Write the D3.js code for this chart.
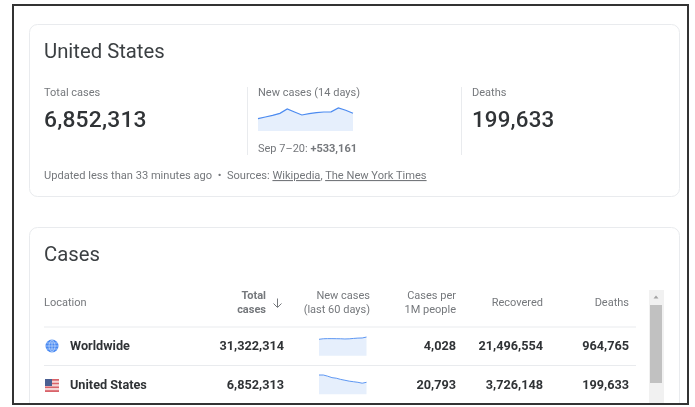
<!DOCTYPE html>
<html><head><meta charset="utf-8">
<script src="https://cdnjs.cloudflare.com/ajax/libs/d3/7.8.5/d3.min.js"></script>
<style>
html,body{margin:0;padding:0;background:#fff;overflow:hidden}
svg{display:block;filter:blur(.45px)}
text{font-family:Roboto,Arial,sans-serif}
</style></head><body><svg id="c" width="695" height="407"></svg>
<script>
const days14=[25900,29400,32900,37100,46200,39900,33600,36300,38400,39900,40300,48300,43500,37200];
const worldwideTrend=[250,258,260,260,259,258,255,257,263,268,270,284];
const usTrend=[66,66,62,57,55,51,48,45,43,41,38,41];
const columns=["Total cases","New cases (last 60 days)","Cases per 1M people","Recovered","Deaths"];
const locations=["Worldwide","United States"];
const totalCases=["31,322,314","6,852,313"];
const casesPerM=["4,028","20,793"];
const recovered=["21,496,554","3,726,148"];
const deaths=["964,765","199,633"];

const svg=d3.select("#c");
const GRAY="#75787c",DARK="#303336",BLUE="#4c8bf0",FILL="#e6effc",LINE="#e9ebee";
const SM=11;
function t(x,y,s,size,o={}){
  return svg.append("text").attr("x",x).attr("y",y).text(s).attr("font-size",size)
   .attr("fill",o.fill||GRAY).attr("font-weight",o.w||400)
   .attr("text-anchor",o.a||"start").attr("letter-spacing",o.ls||0);
}
// frame
svg.append("rect").attr("x",13).attr("y",5).attr("width",675).attr("height",399)
  .attr("fill","#fff").attr("stroke","#333").attr("stroke-width",2);
// cards
svg.append("rect").attr("x",29.5).attr("y",24.5).attr("width",650).attr("height",172).attr("rx",8)
  .attr("fill","#fff").attr("stroke",LINE);
svg.append("path").attr("d","M29.5 403V235.5a8 8 0 0 1 8-8H671.5a8 8 0 0 1 8 8V403")
  .attr("fill","#fff").attr("stroke",LINE);

// header card
t(44,58,"United States",20.3,{fill:"#3c4043"});
t(44,96,"Total cases",SM);
t(44,127,"6,852,313",22.8,{fill:DARK,w:500,ls:.2});
t(258,96,"New cases (14 days)",SM);
t(472,96,"Deaths",SM);
t(472,127,"199,633",22.3,{fill:DARK,w:500,ls:.2});
t(258,152,"Sep 7–20: ",SM).append("tspan").attr("font-weight",700).text("+533,161");
[247.5,461.5].forEach(x=>svg.append("line").attr("x1",x).attr("x2",x).attr("y1",87).attr("y2",155).attr("stroke",LINE));

function spark(values,x0,x1,y0,y1,dom,w){
  const x=d3.scaleLinear().domain([0,values.length-1]).range([x0,x1]);
  const y=d3.scaleLinear().domain([0,dom]).range([y0,y1]);
  svg.append("path").datum(values).attr("fill",FILL)
    .attr("d",d3.area().x((d,i)=>x(i)).y0(y0).y1(d=>y(d)));
  svg.append("path").datum(values).attr("fill","none").attr("stroke",BLUE).attr("stroke-width",w)
    .attr("d",d3.line().x((d,i)=>x(i)).y(d=>y(d)));
}
spark(days14,258,353,131,107,50400,1.2);

// footer
const f=t(44,179,"Updated less than 33 minutes ago  •  Sources: ",11.1);
f.style("white-space","pre");
f.append("tspan").attr("text-decoration","underline").text("Wikipedia");
f.append("tspan").text(", ");
f.append("tspan").attr("text-decoration","underline").text("The New York Times");

// table card
t(44,261,"Cases",20.3,{fill:"#3c4043"});
t(44,306,"Location",SM);
const hdr=(x,a,b,w)=>{t(x,299,a,SM,{a:"end",w});t(x,312.5,b,SM,{a:"end",w});};
const parts=[["Total","cases"],["New cases","(last 60 days)"],["Cases per","1M people"]];
hdr(266,parts[0][0],parts[0][1],700);
hdr(370,parts[1][0],parts[1][1]);
hdr(456,parts[2][0],parts[2][1]);
t(543,306,columns[3],SM,{a:"end"});
t(629,306,columns[4],SM,{a:"end"});
// sort arrow
svg.append("path").attr("d","M277.5 298.5v8.5M273.5 303.5l4 4 4-4").attr("fill","none").attr("stroke",GRAY).attr("stroke-width",1);

[327,365.5].forEach(y=>svg.append("line").attr("x1",44).attr("x2",636).attr("y1",y).attr("y2",y).attr("stroke",LINE));
const rowY=[350,389];
locations.forEach((n,i)=>{
  const y=rowY[i],o={a:"end",w:700,fill:DARK};
  t(70,y,n,12.7,{w:700,fill:DARK});
  t(284,y,totalCases[i],12.7,o);
  t(456,y,casesPerM[i],12.7,o);
  t(543,y,recovered[i],12.7,o);
  t(629,y,deaths[i],12.7,o);
});
spark(worldwideTrend,319,366.5,355.7,336,300,.9);
spark(usTrend,319,366.5,394.3,375,66,.9);

// globe
svg.append("circle").attr("cx",52).attr("cy",346).attr("r",6.5).attr("fill","#4a8af2");
svg.append("path").attr("d","M45.5 346h13M46.5 343h11M46.5 349h11M52 339.5v13M52 339.5c-4 4-4 9 0 13M52 339.5c4 4 4 9 0 13")
  .attr("fill","none").attr("stroke","#d5e4fc").attr("stroke-width",.6);
// flag
const stripes=d3.range(7);
svg.selectAll(".st").data(stripes).join("rect").attr("x",45).attr("width",14)
  .attr("y",d=>379+d*13/7).attr("height",13/7).attr("fill",d=>d%2?"#f6d5d5":"#d9636a");
svg.append("rect").attr("x",45).attr("y",379).attr("width",7).attr("height",7).attr("fill","#4a5f92");

// scrollbar
svg.append("rect").attr("x",649).attr("y",290).attr("width",15).attr("height",113).attr("fill","#f1f1f1");
svg.append("rect").attr("x",650).attr("y",305).attr("width",12).attr("height",78).attr("fill","#c1c1c1");
svg.append("path").attr("d","M653.5 298.5l2.5-3 2.5 3z").attr("fill","#a3a3a3");
</script></body></html>
